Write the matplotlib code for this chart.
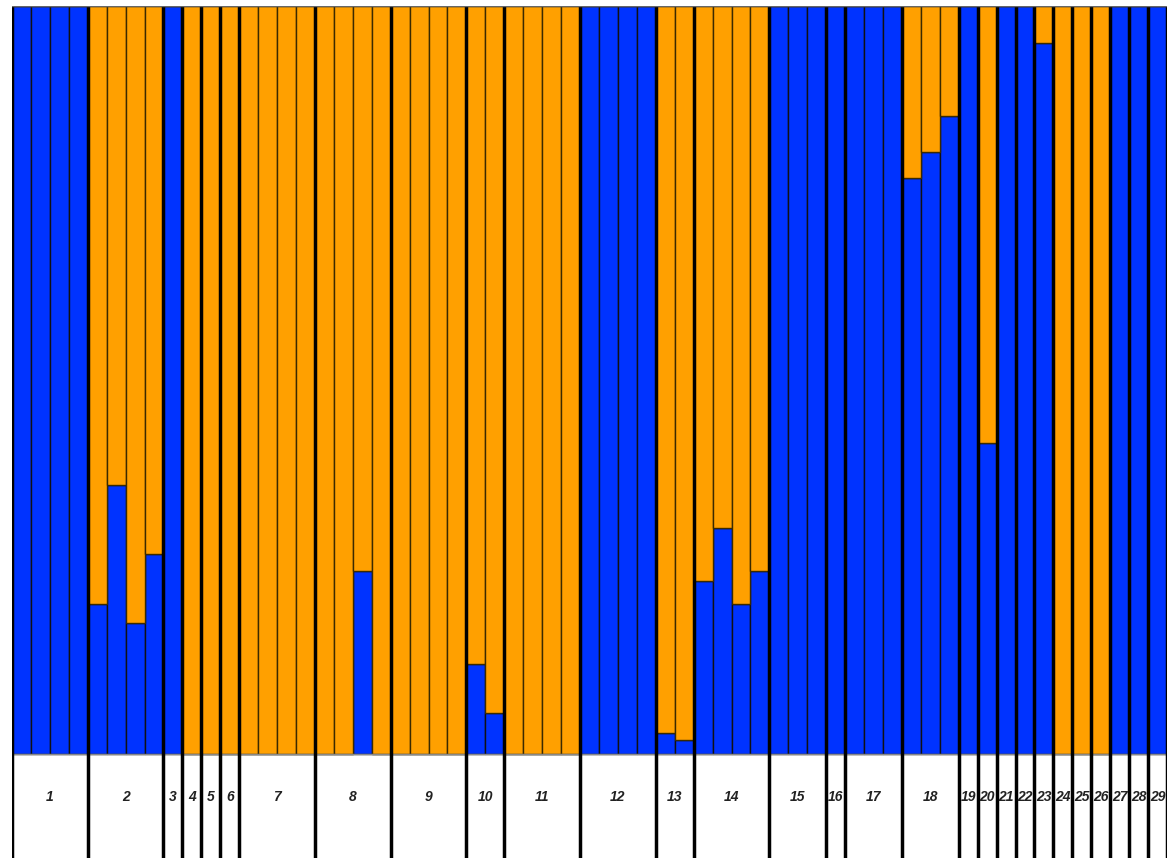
import matplotlib.pyplot as plt
import numpy as np

# populations and the number of individuals in each
pop_labels = [str(i) for i in range(1, 30)]
pop_sizes = [4, 4, 1, 1, 1, 1, 4, 4, 4, 2, 4, 4, 2, 4, 3, 1, 3, 3, 1, 1, 1, 1, 1, 1, 1, 1, 1, 1, 1]

# membership in cluster 1 (blue), per individual; cluster 2 (orange) is the rest
blue_q = [
    1, 1, 1, 1,                 # 1
    0.20, 0.36, 0.175, 0.267,   # 2
    1,                          # 3
    0, 0, 0,                    # 4-6
    0, 0, 0, 0,                 # 7
    0, 0, 0.245, 0,             # 8
    0, 0, 0, 0,                 # 9
    0.12, 0.055,                # 10
    0, 0, 0, 0,                 # 11
    1, 1, 1, 1,                 # 12
    0.028, 0.019,               # 13
    0.231, 0.302, 0.20, 0.245,  # 14
    1, 1, 1,                    # 15
    1,                          # 16
    1, 1, 1,                    # 17
    0.77, 0.805, 0.853,         # 18
    1,                          # 19
    0.416,                      # 20
    1, 1,                       # 21-22
    0.95,                       # 23
    0, 0, 0,                    # 24-26
    1, 1, 1,                    # 27-29
]

blue = "#0033ff"
orange = "#ffa000"

q1 = np.array(blue_q)
q2 = 1 - q1
x = np.arange(len(q1)) + 0.5
label_h = 0.139

fig = plt.figure(figsize=(11.73, 8.58), dpi=100)
ax = fig.add_axes([12 / 1173, 0, 1155 / 1173, 852 / 858])

ax.bar(x, q1, width=1, color=blue, edgecolor="#111111", linewidth=1.0)
ax.bar(x, q2, bottom=q1, width=1, color=orange, edgecolor="#3a2a00", linewidth=1.0)

# label strip
ax.axhline(0, color="#888888", linewidth=1)
bounds = np.concatenate([[0], np.cumsum(pop_sizes)])
ax.vlines(bounds, -label_h, 1, color="black", linewidth=2.5)
for i, lab in enumerate(pop_labels):
    mid = (bounds[i] + bounds[i + 1]) / 2
    ax.text(mid, -0.0575, lab, ha="center", va="center", fontsize=10,
            fontweight="bold", fontstyle="italic", family="Liberation Sans",
            color="#222222")

ax.set_xlim(0, len(q1))
ax.set_ylim(-label_h, 1)
ax.axis("off")
ax.plot([0, len(q1)], [1, 1], color="#666666", linewidth=1)

fig.savefig("out.png", dpi=100)
